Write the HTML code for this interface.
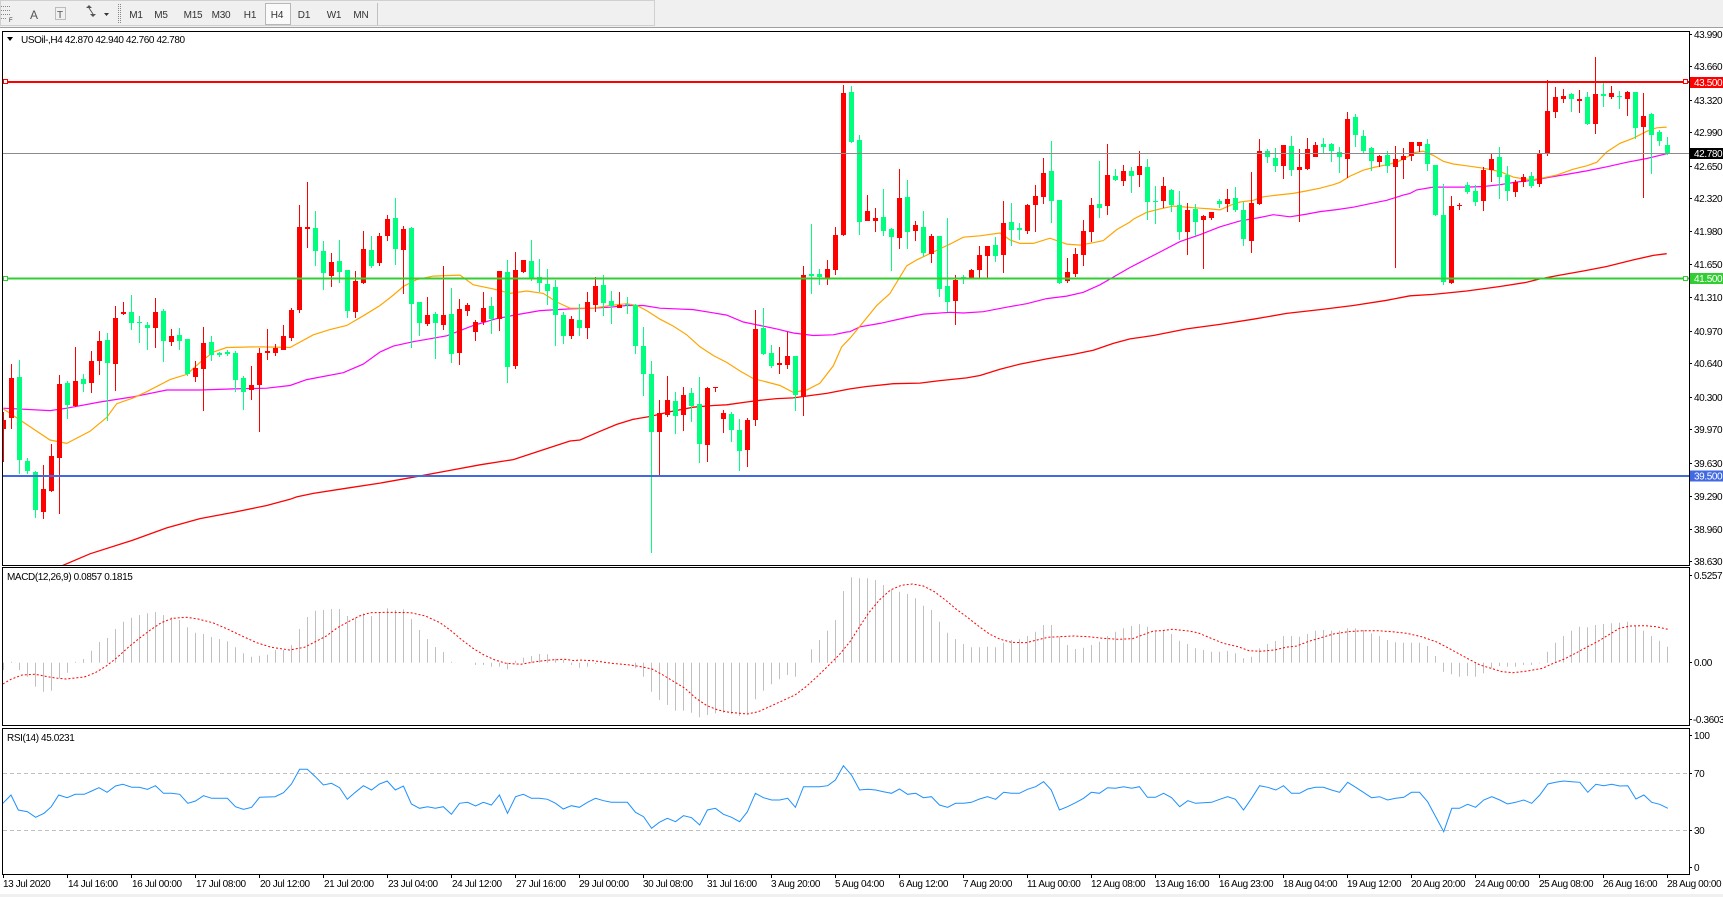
<!DOCTYPE html>
<html><head><meta charset="utf-8"><style>
html,body{margin:0;padding:0;background:#fff;width:1723px;height:897px;overflow:hidden}
svg{display:block}
svg text{font-family:"Liberation Sans",sans-serif;font-size:10px;letter-spacing:-0.4px;fill:#000}
.tb{fill:#333;letter-spacing:-0.2px}
.wl{fill:#fff}
</style></head><body>
<svg id="s" width="1723" height="897" xmlns="http://www.w3.org/2000/svg">
<defs>
<clipPath id="cm"><rect x="3" y="32" width="1686" height="533"/></clipPath>
<clipPath id="cd"><rect x="3" y="568" width="1686" height="157"/></clipPath>
<clipPath id="cr"><rect x="3" y="729" width="1686" height="145"/></clipPath>
</defs>
<!-- toolbar -->
<rect x="0" y="0" width="1723" height="27" fill="#f0f0f0"/>
<rect x="0.5" y="0.5" width="654" height="25" fill="none" stroke="#d0d0d0"/>
<line x1="0" y1="27.5" x2="1723" y2="27.5" stroke="#a0a0a0"/>
<g stroke="#888" stroke-dasharray="1,1">
<line x1="1" y1="6.5" x2="11" y2="6.5"/><line x1="1" y1="10.5" x2="11" y2="10.5"/><line x1="1" y1="14.5" x2="11" y2="14.5"/><line x1="1" y1="18.5" x2="7" y2="18.5"/>
<rect x="55.5" y="7.5" width="10" height="12" fill="none"/>
<line x1="118.5" y1="4" x2="118.5" y2="24"/>
<line x1="120.5" y1="4" x2="120.5" y2="24"/>
</g>
<text x="9" y="22" style="font-size:6px" class="tb">F</text>
<text x="30" y="19" style="font-size:12px;fill:#555">A</text>
<text x="57" y="18" style="font-size:10px;fill:#555">T</text>
<path d="M86,8 l3,-3 l3,3z M90,14 l3,3 l3,-3z" fill="#555"/>
<line x1="89" y1="8" x2="93" y2="14" stroke="#555"/>
<path d="M104,13 h5 l-2.5,3z" fill="#333"/>
<line x1="377.5" y1="3" x2="377.5" y2="25" stroke="#c0c0c0"/>
<rect x="265.5" y="3.5" width="25" height="21" fill="#fafafa" stroke="#b8b8b8"/>
<text x="136" y="18" text-anchor="middle" class="tb">M1</text>
<text x="161" y="18" text-anchor="middle" class="tb">M5</text>
<text x="193" y="18" text-anchor="middle" class="tb">M15</text>
<text x="221" y="18" text-anchor="middle" class="tb">M30</text>
<text x="250" y="18" text-anchor="middle" class="tb">H1</text>
<text x="277" y="18" text-anchor="middle" class="tb">H4</text>
<text x="304" y="18" text-anchor="middle" class="tb">D1</text>
<text x="334" y="18" text-anchor="middle" class="tb">W1</text>
<text x="361" y="18" text-anchor="middle" class="tb">MN</text>

<!-- pane frames -->
<rect x="2.5" y="31.5" width="1687" height="534" fill="#fff" stroke="#000"/>
<rect x="2.5" y="567.5" width="1687" height="158" fill="#fff" stroke="#000"/>
<rect x="2.5" y="728.5" width="1687" height="146" fill="#fff" stroke="#000"/>
<rect x="0" y="894" width="1723" height="3" fill="#f0f0f0"/>

<g id="g"></g>

<!-- horizontal lines -->
<g clip-path="url(#cm)">
<line x1="3" y1="153.5" x2="1689" y2="153.5" stroke="#8c8c8c"/>
</g>
<line x1="3" y1="82" x2="1689" y2="82" stroke="#ff0000" stroke-width="2"/>
<line x1="3" y1="278.5" x2="1689" y2="278.5" stroke="#32cd32" stroke-width="2"/>
<line x1="3" y1="476" x2="1689" y2="476" stroke="#4169e1" stroke-width="2"/>
<rect x="3.5" y="79.5" width="4" height="4" fill="#fff" stroke="#ff0000"/>
<rect x="1683.5" y="79.5" width="4" height="4" fill="#fff" stroke="#ff0000"/>
<rect x="3.5" y="276.5" width="4" height="4" fill="#fff" stroke="#32cd32"/>
<rect x="1683.5" y="276.5" width="4" height="4" fill="#fff" stroke="#32cd32"/>

<!-- header -->
<path d="M7,37 h6 l-3,4z" fill="#000"/>
<text x="21" y="43">USOil-,H4  42.870 42.940 42.760 42.780</text>
<text x="7" y="580">MACD(12,26,9) 0.0857 0.1815</text>
<text x="7" y="741">RSI(14) 45.0231</text>

<!-- price axis -->
<g stroke="#000">
<line x1="1689" y1="34.5" x2="1692" y2="34.5"/><line x1="1689" y1="66.5" x2="1692" y2="66.5"/><line x1="1689" y1="100.5" x2="1692" y2="100.5"/><line x1="1689" y1="132.5" x2="1692" y2="132.5"/><line x1="1689" y1="166.5" x2="1692" y2="166.5"/><line x1="1689" y1="198.5" x2="1692" y2="198.5"/><line x1="1689" y1="231.5" x2="1692" y2="231.5"/><line x1="1689" y1="264.5" x2="1692" y2="264.5"/><line x1="1689" y1="297.5" x2="1692" y2="297.5"/><line x1="1689" y1="331.5" x2="1692" y2="331.5"/><line x1="1689" y1="363.5" x2="1692" y2="363.5"/><line x1="1689" y1="397.5" x2="1692" y2="397.5"/><line x1="1689" y1="429.5" x2="1692" y2="429.5"/><line x1="1689" y1="463.5" x2="1692" y2="463.5"/><line x1="1689" y1="496.5" x2="1692" y2="496.5"/><line x1="1689" y1="529.5" x2="1692" y2="529.5"/><line x1="1689" y1="561.5" x2="1692" y2="561.5"/>
<line x1="1689" y1="575.5" x2="1692" y2="575.5"/><line x1="1689" y1="662.5" x2="1692" y2="662.5"/><line x1="1689" y1="719.5" x2="1692" y2="719.5"/>
<line x1="1689" y1="735.5" x2="1692" y2="735.5"/><line x1="1689" y1="773.5" x2="1692" y2="773.5"/><line x1="1689" y1="830.5" x2="1692" y2="830.5"/><line x1="1689" y1="867.5" x2="1692" y2="867.5"/>
</g>
<text x="1694" y="38">43.990</text>
<text x="1694" y="70">43.660</text>
<text x="1694" y="104">43.320</text>
<text x="1694" y="136">42.990</text>
<text x="1694" y="170">42.650</text>
<text x="1694" y="202">42.320</text>
<text x="1694" y="235">41.980</text>
<text x="1694" y="268">41.650</text>
<text x="1694" y="301">41.310</text>
<text x="1694" y="335">40.970</text>
<text x="1694" y="367">40.640</text>
<text x="1694" y="401">40.300</text>
<text x="1694" y="433">39.970</text>
<text x="1694" y="467">39.630</text>
<text x="1694" y="500">39.290</text>
<text x="1694" y="533">38.960</text>
<text x="1694" y="565">38.630</text>
<rect x="1690" y="77" width="33" height="11" fill="#ff0000"/>
<text x="1694" y="86" class="wl">43.500</text>
<rect x="1690" y="148" width="33" height="11" fill="#000"/>
<text x="1694" y="157" class="wl">42.780</text>
<rect x="1690" y="273" width="33" height="11" fill="#32cd32"/>
<text x="1694" y="282" class="wl">41.500</text>
<rect x="1690" y="470.5" width="33" height="11" fill="#4169e1"/>
<text x="1694" y="479.5" class="wl">39.500</text>

<text x="1694" y="579">0.5257</text>
<text x="1694" y="666">0.00</text>
<text x="1693" y="723">-0.3603</text>
<text x="1694" y="739">100</text>
<text x="1694" y="777">70</text>
<text x="1694" y="834">30</text>
<text x="1694" y="871">0</text>

<!-- date axis -->
<g id="ticks" stroke="#000"></g>
<text x="3" y="887">13 Jul 2020</text>
<text x="68" y="887">14 Jul 16:00</text>
<text x="132" y="887">16 Jul 00:00</text>
<text x="196" y="887">17 Jul 08:00</text>
<text x="260" y="887">20 Jul 12:00</text>
<text x="324" y="887">21 Jul 20:00</text>
<text x="388" y="887">23 Jul 04:00</text>
<text x="452" y="887">24 Jul 12:00</text>
<text x="516" y="887">27 Jul 16:00</text>
<text x="579" y="887">29 Jul 00:00</text>
<text x="643" y="887">30 Jul 08:00</text>
<text x="707" y="887">31 Jul 16:00</text>
<text x="771" y="887">3 Aug 20:00</text>
<text x="835" y="887">5 Aug 04:00</text>
<text x="899" y="887">6 Aug 12:00</text>
<text x="963" y="887">7 Aug 20:00</text>
<text x="1027" y="887">11 Aug 00:00</text>
<text x="1091" y="887">12 Aug 08:00</text>
<text x="1155" y="887">13 Aug 16:00</text>
<text x="1219" y="887">16 Aug 23:00</text>
<text x="1283" y="887">18 Aug 04:00</text>
<text x="1347" y="887">19 Aug 12:00</text>
<text x="1411" y="887">20 Aug 20:00</text>
<text x="1475" y="887">24 Aug 00:00</text>
<text x="1539" y="887">25 Aug 08:00</text>
<text x="1603" y="887">26 Aug 16:00</text>
<text x="1667" y="887">28 Aug 00:00</text>
</svg>
<script>
(function(){
var NS='http://www.w3.org/2000/svg';
var G=document.getElementById('g');
function el(t,a,p){var e=document.createElementNS(NS,t);for(var k in a)e.setAttribute(k,a[k]);(p||G).appendChild(e);return e;}
var tk=document.getElementById('ticks');
for(var k=0;k<27;k++){var tx=3.5+64*k;el('line',{x1:tx,y1:874,x2:tx,y2:878},tk);}
function my(z){return 82.3+(z-153)*0.3449;}
var C=[[0,1132,1158,1110,1255],[0,1010,1125,970,1158],[1,1008,1248,958,1290],[1,1250,1280,1243,1290],[1,1283,1392,1280,1416],[0,1333,1398,1262,1420],[0,1237,1338,1202,1342],[0,1028,1242,1002,1406],[1,1025,1088,1018,1130],[0,1019,1092,920,1095],
[1,1013,1027,998,1050],[0,962,1024,933,1053],[0,903,960,875,1003],[1,900,966,880,1135],[0,836,970,802,1047],[0,820,825,790,828],[1,820,852,769,870],[1,848,852,830,908],[1,857,866,848,930],[0,820,866,778,922],
[1,816,902,810,963],[0,888,905,868,917],[1,886,902,865,928],[1,897,1000,897,1005],[0,980,1007,960,1023],[0,909,983,862,1107],[1,907,945,888,960],[1,938,944,936,950],[1,935,940,928,948],[1,938,1015,933,1050],
[1,1010,1050,1005,1102],[0,1030,1045,975,1073],[0,938,1030,922,1168],[0,931,937,868,957],[0,922,937,913,948],[0,889,928,858,930],[0,813,893,808,903],[0,572,812,508,822],[0,572,577,443,632],[1,575,641,527,685],
[1,641,706,612,755],[0,674,714,648,746],[1,670,703,610,735],[1,697,815,697,835],[0,728,818,700,835],[0,636,736,584,738],[1,638,686,600,690],[0,598,677,590,685],[0,548,598,537,612],[1,546,636,488,682],
[0,578,638,570,768],[1,574,796,572,922],[1,790,850,790,890],[0,828,855,775,860],[1,825,851,818,955],[0,828,857,685,870],[1,825,941,748,967],[0,810,938,780,972],[0,800,815,792,830],[0,848,877,843,902],
[0,807,848,762,858],[1,803,838,775,882],[0,700,840,700,873],[1,703,978,668,1025],[0,697,975,645,983],[0,668,702,668,705],[1,671,720,610,730],[1,717,734,665,762],[1,738,757,693,800],[1,746,827,726,917],
[1,828,888,818,913],[0,840,890,830,898],[1,842,866,797,888],[0,790,865,762,896],[0,743,798,718,820],[1,740,793,712,830],[1,787,802,757,853],[0,798,806,762,808],[1,795,798,775,825],[1,800,917,795,940],
[1,918,998,862,1063],[1,998,1168,962,1518],[0,1112,1167,1075,1292],[0,1075,1118,1005,1123],[1,1078,1120,1050,1172],[0,1060,1117,1037,1163],[1,1053,1092,1040,1137],[1,1085,1202,1008,1257],[0,1040,1205,1035,1253],[0,1035,1040,1035,1052],
[0,1112,1130,1102,1170],[1,1115,1160,1108,1195],[1,1160,1222,1130,1280],[0,1132,1220,1125,1268],[0,868,1132,813,1150],[1,865,940,806,945],[1,938,975,915,980],[0,967,972,920,998],[0,947,972,877,983],[1,948,1060,946,1105],
[0,712,1065,685,1120],[1,710,715,565,767],[1,708,718,693,742],[0,693,720,668,740],[0,595,696,572,711],[0,183,595,160,600],[1,180,325,163,328],[1,320,557,305,595],[0,525,555,480,555],[0,545,555,517,587],
[1,543,583,462,598],[1,578,602,575,700],[0,488,603,404,635],[1,485,587,436,635],[0,566,583,555,612],[1,572,648,526,660],[0,598,650,593,678],[1,600,752,598,775],[1,745,790,546,820],[0,725,787,713,858],
[1,717,722,713,738],[0,697,720,693,722],[0,653,697,627,720],[0,627,657,627,720],[1,624,658,601,673],[0,560,653,498,705],[1,558,580,502,627],[1,575,580,560,610],[0,510,583,507,592],[0,482,510,452,588],
[0,415,487,372,505],[1,409,497,322,562],[1,494,735,494,738],[0,703,730,662,735],[0,650,710,632,717],[0,584,655,552,685],[0,508,588,488,615],[1,505,517,382,545],[0,421,513,333,537],[1,424,435,404,440],
[0,409,440,392,455],[1,411,426,400,475],[0,395,423,351,458],[1,398,500,375,553],[1,497,501,455,565],[0,453,498,427,518],[1,465,508,463,530],[1,508,586,467,609],[0,523,588,502,655],[1,519,557,505,598],
[0,540,553,537,695],[0,528,545,528,552],[1,497,507,492,517],[0,491,506,462,530],[1,488,522,456,530],[1,523,606,500,628],[0,502,612,412,647],[0,351,507,317,508],[1,351,371,346,386],[1,372,397,343,413],
[0,334,397,334,432],[1,337,406,308,426],[0,398,408,346,557],[0,346,404,314,407],[0,335,371,327,371],[1,332,340,314,357],[1,333,353,330,383],[1,354,371,340,417],[0,258,374,240,430],[1,253,307,244,342],
[1,308,353,290,357],[1,343,382,340,410],[0,366,385,363,400],[1,363,397,351,417],[0,375,400,337,692],[0,366,378,343,432],[0,327,366,325,380],[0,327,338,325,355],[1,331,390,317,410],[1,392,538,392,540],
[1,537,732,447,742],[0,512,735,482,737],[0,508,512,502,522],[1,452,470,443,478],[1,467,501,450,513],[0,408,498,400,525],[0,375,408,362,443],[1,370,427,340,490],[1,421,469,395,496],[0,443,472,435,487],
[0,428,442,418,458],[1,425,455,412,460],[0,357,449,350,458],[0,235,358,145,368],[0,197,240,168,257],[0,192,202,172,212],[1,188,202,183,240],[0,200,206,175,243],[1,197,273,180,276],[0,186,275,80,303],
[1,188,194,148,225],[0,183,197,163,200],[1,194,196,178,230],[0,180,200,177,252],[1,180,285,180,317],[0,250,282,183,488],[1,246,305,243,420],[1,298,322,292,338],[1,334,360,313,365]];

function line(segs,sx,fy,attrs,clip){
  var pts=[],last=-1e9;
  segs.forEach(function(s){var X0=s[0];s[1].forEach(function(p){var x=X0+p[0]/sx;if(x>last+0.01){pts.push(x.toFixed(1)+','+fy(p[1]).toFixed(1));last=x;}});});
  var a={points:pts.join(' '),fill:'none','clip-path':'url(#'+clip+')'};for(var k in attrs)a[k]=attrs[k];
  el('polyline',a);
}
var mainY=my;
// MA 200 red
line([[0,[[100,1600],[190,1553],[270,1520],[400,1480],[500,1445],[600,1418],[700,1400],[800,1380],[870,1362]]],
[280,[[50,1355],[100,1345],[200,1330],[300,1315],[400,1298],[500,1280],[600,1262],[700,1247],[800,1215],[870,1193]]],
[560,[[60,1190],[120,1165],[170,1145],[220,1130],[270,1122],[330,1108],[400,1095],[460,1090],[500,1088],[560,1080],[600,1075],[650,1070],[700,1068],[760,1060],[800,1055],[870,1042]]],
[840,[[80,1035],[160,1027],[240,1025],[300,1018],[380,1010],[420,1003],[480,985],[540,970],[620,955],[700,942],[760,930],[820,910],[870,897]]],
[1120,[[100,887],[200,868],[300,855],[400,840],[500,823],[600,812],[700,800],[800,785],[870,772]]],
[1400,[[100,768],[200,758],[300,745],[380,733],[420,723],[480,712],[550,700],[620,687],[700,668],[760,655],[800,650]]]],3,mainY,{stroke:'#ff0000','stroke-width':1.3},'cm');
// magenta
line([[0,[[10,1098],[150,1105],[200,1098],[300,1080],[400,1065],[500,1045],[600,1045],[700,1042],[800,1040],[870,1032]]],
[280,[[30,1030],[80,1015],[190,995],[250,970],[300,935],[340,918],[400,905],[500,888],[580,858],[650,838],[720,825],[780,815],[870,810]]],
[560,[[30,810],[100,808],[150,805],[200,800],[250,800],[300,808],[400,812],[450,820],[500,828],[550,848],[600,858],[650,868],[700,880],[760,887],[820,885],[860,877],[870,876]]],
[840,[[30,872],[60,862],[120,852],[200,835],[250,825],[330,820],[370,822],[430,818],[500,805],[560,795],[620,780],[680,773],[730,762],[780,740],[830,712],[870,690]]],
[1120,[[30,690],[60,675],[120,645],[180,615],[240,595],[300,572],[360,555],[420,545],[460,537],[510,543],[560,535],[600,528],[650,522],[700,515],[750,505],[800,495],[850,480],[870,475]]],
[1400,[[30,470],[50,465],[100,457],[200,457],[250,455],[300,450],[350,442],[400,437],[450,428],[500,420],[560,410],[620,398],[680,385],[740,374],[800,360]]]],3,mainY,{stroke:'#ff00ff','stroke-width':1.2},'cm');
// orange
line([[0,[[10,1100],[150,1190],[200,1200],[270,1165],[320,1125],[350,1085],[400,1068],[440,1050],[510,1015],[560,1000],[600,965],[640,935],[680,922],[780,920],[870,922]]],
[280,[[30,925],[100,885],[150,870],[200,858],[250,830],[300,800],[340,770],[370,745],[410,725],[460,715],[540,712],[580,740],[640,752],[690,765],[740,758],[790,765],[830,790],[870,808]]],
[560,[[30,805],[100,808],[150,800],[200,795],[230,800],[260,815],[300,840],[340,860],[380,885],[420,920],[460,945],[500,965],[540,990],[580,1012],[620,1022],[660,1032],[700,1052],[740,1045],[780,1025],[820,975],[845,920],[870,895]]],
[840,[[30,890],[60,860],[110,800],[150,765],[200,685],[230,668],[280,645],[330,622],[370,602],[420,598],[480,590],[510,610],[540,620],[580,620],[630,605],[680,622],[720,625],[760,618],[790,612],[830,580],[870,558]]],
[1120,[[30,555],[40,550],[80,530],[120,520],[160,512],[200,515],[240,518],[270,520],[300,523],[330,510],[360,500],[400,495],[430,485],[470,480],[520,475],[560,468],[600,460],[640,450],[660,443],[690,425],[730,408],[760,400],[800,392],[830,385],[870,365]]],
[1400,[[30,360],[40,357],[70,353],[100,365],[130,382],[160,390],[200,395],[250,402],[300,412],[340,428],[370,433],[400,435],[430,430],[470,422],[520,405],[560,395],[590,385],[620,355],[660,330],[700,315],[740,295],[770,285],[800,283]]]],3,mainY,{stroke:'#ffa500','stroke-width':1.2},'cm');

// candles
var wk=['',''],bd=['',''];
C.forEach(function(c,i){
  var x=3+8*i;
  var bt=Math.round(my(c[1])),bb=Math.round(my(c[2])),wt=Math.round(my(c[3])),wb=Math.round(my(c[4]));
  if(bb-bt<1)bb=bt+1; if(wb<bb)wb=bb; if(wt>bt)wt=bt;
  wk[c[0]]+='M'+(x+0.5)+','+wt+'V'+wb;
  bd[c[0]]+='M'+(x-2)+','+bt+'h5V'+bb+'h-5Z';
});
var col=['#ff0000','#00ff7f'];
for(var j=0;j<2;j++){
  el('path',{d:wk[j],stroke:col[j],'stroke-width':1,fill:'none','clip-path':'url(#cm)'});
  el('path',{d:bd[j],fill:col[j],'clip-path':'url(#cm)'});
}

// MACD histogram
var H=[330,305,330,350,380,395,392,355,338,305,297,272,246,234,207,185,173,165,160,156,165,172,180,202,218,222,231,237,244,262,280,290,287,284,270,270,255,207,171,152,150,147,147,168,173,160,168,158,145,150,148,177,210,237,261,276,305,308,308,315,315,320,320,328,302,293,288,282,283,296,300,315,
323,320,312,308,308,308,308,325,350,395,420,435,452,452,458,472,465,460,458,463,468,463,418,392,373,358,345,350,308,268,240,212,180,93,52,55,55,60,75,90,95,102,115,137,150,185,218,237,252,262,262,260,262,248,240,238,228,215,195,195,230,255,267,263,255,245,228,215,205,198,193,200,
215,210,222,242,252,265,270,275,275,273,280,295,290,265,252,243,228,228,230,222,212,210,212,212,205,205,210,220,228,240,247,248,248,248,258,288,335,343,350,348,350,340,325,318,320,320,315,315,310,275,248,228,212,200,202,195,192,190,188,185,197,212,228,242,260];
var hd='';var y0=662.7;
H.forEach(function(v,i){var y=560+v/3;if(Math.abs(y-y0)<0.6)return;var x=3.5+8*i;hd+='M'+x+','+y0.toFixed(1)+'V'+y.toFixed(1);});
el('path',{d:hd,stroke:'#c0c0c0','stroke-width':1,fill:'none','clip-path':'url(#cd)'});
function sy(z){return 560+z/3;}
line([[0,[[8,372],[30,358],[60,345],[95,343],[120,348],[150,354],[180,357],[230,351],[260,338],[290,318],[320,292],[350,262],[380,235],[410,210],[440,188],[470,175],[510,172],[540,177],[580,188],[620,207],[660,228],[700,248],[740,262],[790,270],[830,262],[860,245],[890,228],[920,203],[950,185],[980,168],[1010,158],[1060,157],[1120,158],[1160,168],[1200,188],[1230,212],[1260,240],[1290,265],[1320,285],[1350,300],[1380,310],[1420,313],[1460,305],[1500,300],[1540,298],[1568,302]]],
[575,[[10,300],[50,302],[100,310],[150,315],[180,320],[210,327],[240,345],[270,365],[300,385],[330,415],[360,437],[390,450],[420,457],[450,460],[470,462],[500,455],[530,440],[560,425],[600,405],[630,380],[660,350],[690,318],[720,285],[750,245],[770,210],[800,160],[830,120],[860,90],[890,76],[920,72],[950,78],[980,95],[1010,120],[1040,148],[1070,172],[1100,198],[1130,222],[1160,238],[1190,247],[1230,248],[1260,240],[1290,232],[1320,230],[1360,228],[1400,230],[1440,235],[1480,238],[1520,236],[1560,220]]],
[1150,[[10,213],[30,212],[60,208],[100,212],[130,218],[160,232],[200,250],[240,260],[270,272],[300,274],[340,270],[370,262],[400,258],[430,245],[470,232],[500,222],[540,215],[580,212],[620,212],[660,215],[700,220],[740,230],[780,245],[810,262],[840,280],[870,298],[900,315],[930,325],[960,335],[990,338],[1030,333],[1070,325],[1100,310],[1130,297],[1160,280],[1190,262],[1220,245],[1250,225],[1280,205],[1310,198],[1350,197],[1380,200],[1412,208]]]],2.727,sy,{stroke:'#ff0000','stroke-width':1,'stroke-dasharray':'2,2'},'cd');

// RSI levels
el('line',{x1:3,y1:773.5,x2:1689,y2:773.5,stroke:'#c0c0c0','stroke-dasharray':'4,3'});
el('line',{x1:3,y1:830.5,x2:1689,y2:830.5,stroke:'#c0c0c0','stroke-dasharray':'4,3'});
line([[0,[[8,730],[30,705],[50,750],[75,755],[97,772],[120,760],[140,740],[160,705],[183,713],[205,703],[230,703],[250,693],[270,683],[292,697],[315,678],[335,673],[360,682],[380,682],[402,688],[424,677],[446,700],[468,700],[490,703],[512,730],[533,723],[555,707],[577,715],[620,715],[642,740],[664,748],[686,742],[708,712],[750,710],[773,698],[795,672],[817,628],[838,628],[860,650],[882,675],[904,670],[926,683],[947,718],[969,697],[991,677],[1013,690],[1035,672],[1056,663],[1078,690],[1100,678],[1122,732],[1144,745],[1166,740],[1187,745],[1209,740],[1231,763],[1253,730],[1275,727],[1297,738],[1318,727],[1340,735],[1362,705],[1384,760],[1406,710],[1427,703],[1449,715],[1471,715],[1493,718],[1515,730],[1536,747],[1558,737]]],
[575,[[12,742],[34,727],[56,715],[78,722],[99,727],[143,727],[165,757],[187,770],[209,805],[230,787],[252,775],[274,785],[296,767],[318,773],[340,795],[361,750],[383,745],[405,763],[427,772],[449,785],[470,755],[492,700],[514,713],[536,720],[558,720],[580,715],[601,742],[623,680],[645,680],[667,680],[689,677],[710,660],[732,617],[754,645],[776,690],[798,688],[820,690],[841,695],[863,700],[885,687],[907,703],[929,700],[950,713],[972,710],[994,735],[1016,742],[1038,730],[1060,730],[1081,727],[1103,717],[1125,710],[1147,718],[1169,697],[1190,700],[1212,700],[1234,688],[1256,680],[1278,665],[1299,690],[1321,750],[1343,740],[1365,728],[1387,715],[1408,697],[1430,700],[1452,683],[1474,685],[1496,680],[1518,685],[1539,680],[1561,712]]],
[1150,[[15,712],[37,700],[59,713],[81,740],[103,722],[124,730],[146,728],[168,727],[190,718],[212,710],[233,718],[255,750],[277,715],[299,677],[321,682],[343,690],[364,677],[386,700],[408,700],[430,687],[452,682],[473,682],[495,690],[517,697],[539,667],[561,682],[582,697],[604,713],[626,710],[648,720],[670,715],[692,712],[713,697],[735,697],[757,725],[779,770],[801,815],[823,745],[844,745],[866,733],[888,742],[910,720],[932,710],[954,720],[975,732],[997,727],[1019,720],[1041,730],[1063,705],[1085,672],[1106,667],[1128,663],[1150,665],[1172,667],[1194,697],[1216,673],[1237,677],[1259,673],[1281,678],[1303,677],[1325,717],[1347,705],[1368,727],[1390,733],[1412,745]]]],2.727,sy,{stroke:'#1e90ff','stroke-width':1},'cr');
})();
</script>
</body></html>
